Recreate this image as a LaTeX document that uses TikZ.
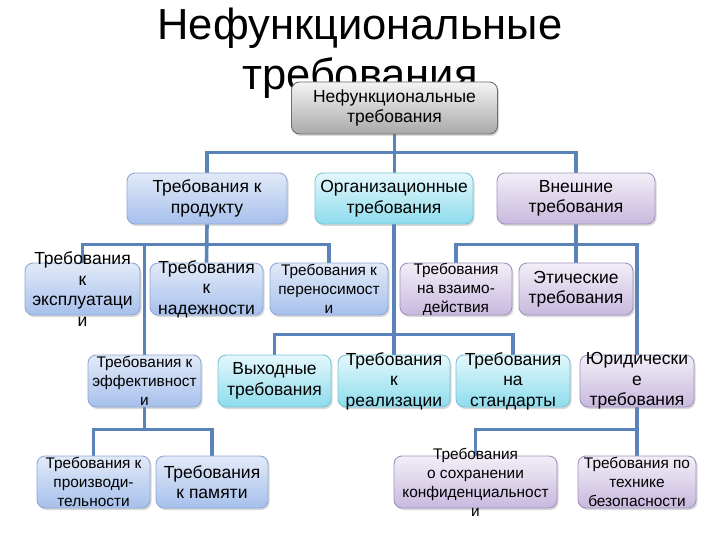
\documentclass[tikz,border=0pt]{standalone}
\usepackage{fontspec}
\setmainfont{Liberation Sans}
\usetikzlibrary{shadows,backgrounds}
\definecolor{conncol}{HTML}{5A83B9}
\definecolor{gtop}{HTML}{F4F4F4}
\definecolor{gbot}{HTML}{A9A9A9}
\definecolor{gline}{HTML}{6E6E6E}
\definecolor{btop}{HTML}{E2EAF8}
\definecolor{bbot}{HTML}{A6C0EC}
\definecolor{bline}{HTML}{8FA9D4}
\definecolor{ctop}{HTML}{E4F8FC}
\definecolor{cbot}{HTML}{8DDCEC}
\definecolor{cline}{HTML}{7CC3D6}
\definecolor{ptop}{HTML}{F2EEF7}
\definecolor{pbot}{HTML}{C8B9DE}
\definecolor{pline}{HTML}{A193BF}
\begin{document}
\begin{tikzpicture}[x=1pt,y=-1pt,
  box/.style={rounded corners=8pt, line width=0.9pt, minimum height=52pt, inner sep=0pt,
    drop shadow={opacity=0.3, shadow xshift=1.5pt, shadow yshift=-2pt}},
  gbox/.style={box, draw=gline, top color=gtop, bottom color=gbot},
  bbox/.style={box, draw=bline, top color=btop, bottom color=bbot},
  cbox/.style={box, draw=cline, top color=ctop, bottom color=cbot},
  pbox/.style={box, draw=pline, top color=ptop, bottom color=pbot},
  lbl/.style={align=center, inner sep=0pt, font=\fontsize{17.5}{20.5}\selectfont},
  slbl/.style={align=center, inner sep=0pt, font=\fontsize{15.4}{19}\selectfont},
  titletext/.style={anchor=base, inner sep=0pt, font=\fontsize{43.5}{48}\selectfont},
  conn/.style={draw=conncol, line width=3.6pt}]
\useasboundingbox (0,0) rectangle (720,540);

% title
\node[titletext] (t1) at (360,39.5) {Нефункциональные};
\node[titletext] (t2) at (360,90) {требования};

% root
\node[gbox, minimum width=206pt, minimum height=52pt,
  label={[lbl]center:{Нефункциональные\\требования}}] (root) at (394.5,108) {};

% level 2
\node[bbox, minimum width=160pt, minimum height=51pt,
  label={[lbl]center:{Требования к\\продукту}}] (prod) at (207,198.5) {};
\node[cbox, minimum width=158pt, minimum height=51pt,
  label={[lbl]center:{Организационные\\требования}}] (org) at (394,198.5) {};
\node[pbox, minimum width=158pt, minimum height=51pt,
  label={[lbl]center:{Внешние\\требования}}] (ext) at (576,198.5) {};

% level 3
\node[bbox, minimum width=115pt,
  label={[lbl]center:{Требования\\к\\эксплуатаци\\и}}] (expl) at (82.5,289) {};
\node[bbox, minimum width=113pt,
  label={[lbl]center:{Требования\\к\\надежности}}] (nadezh) at (206.5,289) {};
\node[bbox, minimum width=118pt,
  label={[slbl]center:{Требования к\\переносимост\\и}}] (perenos) at (329,289) {};
\node[pbox, minimum width=112pt,
  label={[slbl]center:{Требования\\на взаимо-\\действия}}] (vzaimo) at (456,289) {};
\node[pbox, minimum width=114pt,
  label={[lbl]center:{Этические\\требования}}] (etich) at (576,289) {};

% level 4
\node[bbox, minimum width=113pt,
  label={[slbl]center:{Требования к\\эффективност\\и}}] (effekt) at (144.5,381) {};
\node[cbox, minimum width=113pt,
  label={[lbl]center:{Выходные\\требования}}] (vyhod) at (274.5,381) {};
\node[cbox, minimum width=112pt,
  label={[lbl]center:{Требования\\к\\реализации}}] (realiz) at (394,381) {};
\node[cbox, minimum width=114pt,
  label={[lbl]center:{Требования\\на\\стандарты}}] (stand) at (513,381) {};
\node[pbox, minimum width=114pt,
  label={[lbl]center:{Юридически\\е\\требования}}] (jurid) at (637,381) {};

% level 5
\node[bbox, minimum width=113pt,
  label={[slbl]center:{Требования к\\производи-\\тельности}}] (proizv) at (93.5,482) {};
\node[bbox, minimum width=112pt,
  label={[lbl]center:{Требования\\к памяти}}] (pamyat) at (212,482) {};
\node[pbox, minimum width=163pt,
  label={[slbl]center:{Требования\\о сохранении\\конфиденциальност\\и}}] (konf) at (475.5,482) {};
\node[pbox, minimum width=118pt,
  label={[slbl]center:{Требования по\\технике\\безопасности}}] (bezop) at (637,482) {};

\coordinate (pbus) at (0,245);
\coordinate (lbus) at (0,430);

\begin{scope}[on background layer]
\draw[conn] (root.south) -- (root.south |- org.north);
\draw[conn] (prod.north) -- ++(0,-20) -| (ext.north);
\draw[conn] (prod.south) -- (nadezh.north);
\draw[conn] (expl.north) -- ++(0,-18) -| (perenos.north);
\draw[conn] (effekt.north) -- (effekt.north |- pbus);
\draw[conn] (org.south) -- (realiz.north);
\draw[conn] (vyhod.north) -- ++(0,-20) -| (stand.north);
\draw[conn] (ext.south) -- (etich.north);
\draw[conn] (vzaimo.north) -- ++(0,-18) -| (jurid.north);
\draw[conn] (effekt.south) -- (effekt.south |- lbus);
\draw[conn] (proizv.north) -- ++(0,-26) -| (pamyat.north);
\draw[conn] (jurid.south) -- (jurid.south |- lbus);
\draw[conn] (konf.north) -- ++(0,-26) -| (bezop.north);
\end{scope}
\end{tikzpicture}
\end{document}
